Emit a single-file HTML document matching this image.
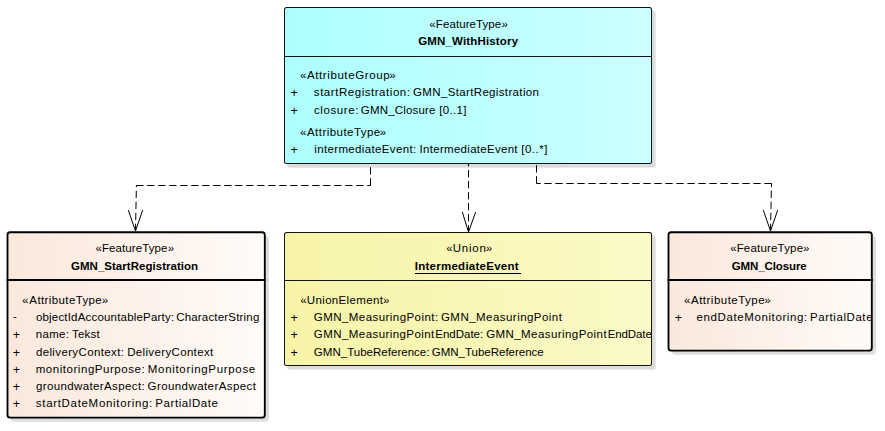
<!DOCTYPE html>
<html><head><meta charset="utf-8"><title>GMN_WithHistory</title>
<style>
html,body{margin:0;padding:0;background:#fff;}
body{width:885px;height:431px;position:relative;overflow:hidden;font-family:"Liberation Sans",sans-serif;font-size:11.5px;color:#000;}
.box{position:absolute;box-sizing:border-box;}
.thin{border:1px solid rgba(0,0,0,.92);border-radius:2.5px;box-shadow:3px 3px 0 #dcdcdc,4px 4px 0 #e8e8e8;overflow:hidden;}
.thin .hd{position:absolute;left:0;right:0;top:0;box-sizing:border-box;border-bottom:1px solid rgba(0,0,0,.92);}
.frame{position:absolute;left:0;top:0;overflow:visible;}
.body{position:absolute;overflow:hidden;}
.ln{position:absolute;left:0;right:0;height:14px;line-height:14px;white-space:nowrap;}
.ln span{position:absolute;top:0;white-space:nowrap;}
.ln .v{font-size:12.5px;}
.b{font-weight:bold;}
.cy{background:linear-gradient(90deg,#adffff 0%,#ccffff 100%);}
.ye{background:linear-gradient(90deg,#f7f4a8 0%,#fbf9c7 100%);}
.conn{position:absolute;left:0;top:0;}
</style></head><body>
<svg width="0" height="0" style="position:absolute"><defs><linearGradient id="pe" x1="0" y1="0" x2="1" y2="0"><stop offset="0" stop-color="#fae8dc"/><stop offset="1" stop-color="#fffbf8"/></linearGradient></defs></svg>
<div class="box thin cy" style="left:284px;top:7px;width:368px;height:157px;">
  <div class="hd" style="height:49px;"></div>
  <div class="ln" style="top:9px;"><span style="left:144.36px;">«</span><span style="left:150.85px;letter-spacing:0.08px;">FeatureType</span><span style="left:216.61px;">»</span></div>
  <div class="ln b" style="top:26px;"><span style="left:133.17px;letter-spacing:0.16px;">GMN_WithHistory</span></div>
  <div class="ln" style="top:60px;"><span style="left:14.91px;">«</span><span style="left:21.94px;letter-spacing:0.6px;">AttributeGroup</span><span style="left:104.26px;">»</span></div>
  <div class="ln" style="top:77px;"><span class="v" style="left:5.56px;top:1px;">+ </span><span style="left:28.85px;letter-spacing:0.54px;">startRegistration: </span><span style="left:128.07px;letter-spacing:0.35px;">GMN_StartRegistration</span></div>
  <div class="ln" style="top:95px;"><span class="v" style="left:5.56px;top:1px;">+ </span><span style="left:28.92px;letter-spacing:0.62px;">closure: </span><span style="left:75.87px;letter-spacing:0.17px;">GMN_Closure </span><span style="left:154.23px;letter-spacing:0.33px;">[0..1]</span></div>
  <div class="ln" style="top:117px;"><span style="left:14.91px;">«</span><span style="left:21.94px;letter-spacing:0.46px;">AttributeType</span><span style="left:94.76px;">»</span></div>
  <div class="ln" style="top:134px;"><span class="v" style="left:5.56px;top:1px;">+ </span><span style="left:29.24px;letter-spacing:0.36px;">intermediateEvent: </span><span style="left:134.59px;letter-spacing:0.29px;">IntermediateEvent </span><span style="left:236.23px;letter-spacing:0.51px;">[0..*]</span></div>
</div>
<div class="box" style="left:6px;top:230px;width:260px;height:189px;">
  <svg class="frame" width="260" height="189" viewBox="6 230 260 189">
    <rect x="10.7" y="235.4" width="258.3" height="186.35" rx="4" fill="#dedede"/>
    <rect x="7.5" y="232.2" width="257.3" height="185.35" rx="2.6" fill="url(#pe)" stroke="#000" stroke-width="1.85"/>
    <rect x="6.5" y="279" width="259.3" height="2" fill="#000"/>
  </svg>
  <div class="body" style="left:2.5px;top:3.2px;width:255.3px;height:183.35px;">
    <div class="ln" style="top:7.8px;"><span style="left:86.91px;">«</span><span style="left:93.45px;letter-spacing:0.1px;">FeatureType</span><span style="left:159.31px;">»</span></div>
    <div class="ln b" style="top:25.8px;"><span style="left:62.47px;letter-spacing:0.03px;">GMN_StartRegistration</span></div>
    <div class="ln" style="top:59.8px;"><span style="left:13.61px;">«</span><span style="left:20.84px;letter-spacing:0.39px;">AttributeType</span><span style="left:93.26px;">»</span></div>
    <div class="ln" style="top:76.8px;"><span style="left:4.51px;top:-0.5px;">- </span><span style="left:27.42px;letter-spacing:0.19px;">objectIdAccountableParty: </span><span style="left:167.67px;letter-spacing:0.19px;">CharacterString</span></div>
    <div class="ln" style="top:93.8px;"><span class="v" style="left:4.36px;top:1px;">+ </span><span style="left:27.23px;letter-spacing:0.34px;">name: </span><span style="left:63.51px;letter-spacing:0.23px;">Tekst</span></div>
    <div class="ln" style="top:111.8px;"><span class="v" style="left:4.36px;top:1px;">+ </span><span style="left:27.42px;letter-spacing:0.37px;">deliveryContext: </span><span style="left:118.65px;letter-spacing:0.35px;">DeliveryContext</span></div>
    <div class="ln" style="top:128.8px;"><span class="v" style="left:4.36px;top:1px;">+ </span><span style="left:27.23px;letter-spacing:0.54px;">monitoringPurpose: </span><span style="left:139.35px;letter-spacing:0.68px;">MonitoringPurpose</span></div>
    <div class="ln" style="top:145.8px;"><span class="v" style="left:4.36px;top:1px;">+ </span><span style="left:27.42px;letter-spacing:0.38px;">groundwaterAspect: </span><span style="left:139.07px;letter-spacing:0.42px;">GroundwaterAspect</span></div>
    <div class="ln" style="top:162.8px;"><span class="v" style="left:4.36px;top:1px;">+ </span><span style="left:27.35px;letter-spacing:0.68px;">startDateMonitoring: </span><span style="left:146.85px;letter-spacing:0.57px;">PartialDate</span></div>
  </div>
</div>
<div class="box thin ye" style="left:284px;top:232px;width:368px;height:134px;">
  <div class="hd" style="height:48px;"></div>
  <div class="ln" style="top:8px;"><span style="left:161.26px;">«</span><span style="left:167.67px;letter-spacing:0.81px;">Union</span><span style="left:200.86px;">»</span></div>
  <div class="ln b" style="top:26px;"><span style="left:130px;width:106px;text-indent:-0.26px;letter-spacing:0.26px;border-bottom:1px solid #000;height:14px;">IntermediateEvent</span></div>
  <div class="ln" style="top:60px;"><span style="left:15.31px;">«</span><span style="left:21.87px;letter-spacing:0.34px;">UnionElement</span><span style="left:98.06px;">»</span></div>
  <div class="ln" style="top:77px;"><span class="v" style="left:5.56px;top:1px;">+ </span><span style="left:28.87px;letter-spacing:0.44px;">GMN_MeasuringPoint: </span><span style="left:155.97px;letter-spacing:0.46px;">GMN_MeasuringPoint</span></div>
  <div class="ln" style="top:94px;"><span class="v" style="left:5.56px;top:1px;">+ </span><span style="left:28.87px;letter-spacing:0.43px;">GMN_MeasuringPoint</span><span style="left:150.35px;letter-spacing:-0.02px;">EndDate: </span><span style="left:201.17px;letter-spacing:0.43px;">GMN_MeasuringPoint</span><span style="left:322.65px;letter-spacing:-0.1px;">EndDate</span></div>
  <div class="ln" style="top:112px;"><span class="v" style="left:5.56px;top:1px;">+ </span><span style="left:28.87px;letter-spacing:0.02px;">GMN_TubeReference: </span><span style="left:146.77px;letter-spacing:-0.01px;">GMN_TubeReference</span></div>
</div>
<div class="box" style="left:667px;top:230px;width:206px;height:122px;">
  <svg class="frame" width="206" height="122" viewBox="667 230 206 122">
    <rect x="671.7" y="235.4" width="204.3" height="119.35" rx="4" fill="#dedede"/>
    <rect x="668.5" y="232.2" width="203.3" height="118.35" rx="2.6" fill="url(#pe)" stroke="#000" stroke-width="1.85"/>
    <rect x="667.5" y="279" width="205.3" height="2" fill="#000"/>
  </svg>
  <div class="body" style="left:2.5px;top:3.2px;width:201.3px;height:116.35px;">
    <div class="ln" style="top:7.8px;"><span style="left:60.76px;">«</span><span style="left:67.15px;letter-spacing:0.19px;">FeatureType</span><span style="left:133.51px;">»</span></div>
    <div class="ln b" style="top:25.8px;"><span style="left:62.27px;letter-spacing:-0.11px;">GMN_Closure</span></div>
    <div class="ln" style="top:59.8px;"><span style="left:14.41px;">«</span><span style="left:21.54px;letter-spacing:0.48px;">AttributeType</span><span style="left:94.66px;">»</span></div>
    <div class="ln" style="top:76.8px;"><span class="v" style="left:5.16px;top:1px;">+ </span><span style="left:27.12px;letter-spacing:0.6px;">endDateMonitoring: </span><span style="left:140.45px;letter-spacing:0.57px;">PartialDate</span></div>
  </div>
</div>
<svg class="conn" width="885" height="431" viewBox="0 0 885 431" fill="none" stroke="#000" stroke-width="1">
<g stroke-dasharray="7.3 3.7">
<path d="M135.5 231L136.4 185.5"/><path d="M136.2 185.5H370.5"/><path d="M370.5 185.5V164"/>
<path d="M468.5 232.4V164"/>
<path d="M770.5 231L771.5 183.5"/><path d="M771.7 183.5H536.5"/><path d="M536.5 183.5V164"/>
</g>
<path d="M128.3 210.1L135.5 231L142.7 210.1"/>
<path d="M462.3 212L468.5 232L475.7 212"/>
<path d="M763.3 210.1L770.5 231L777.7 210.1"/>
</svg>
</body></html>
